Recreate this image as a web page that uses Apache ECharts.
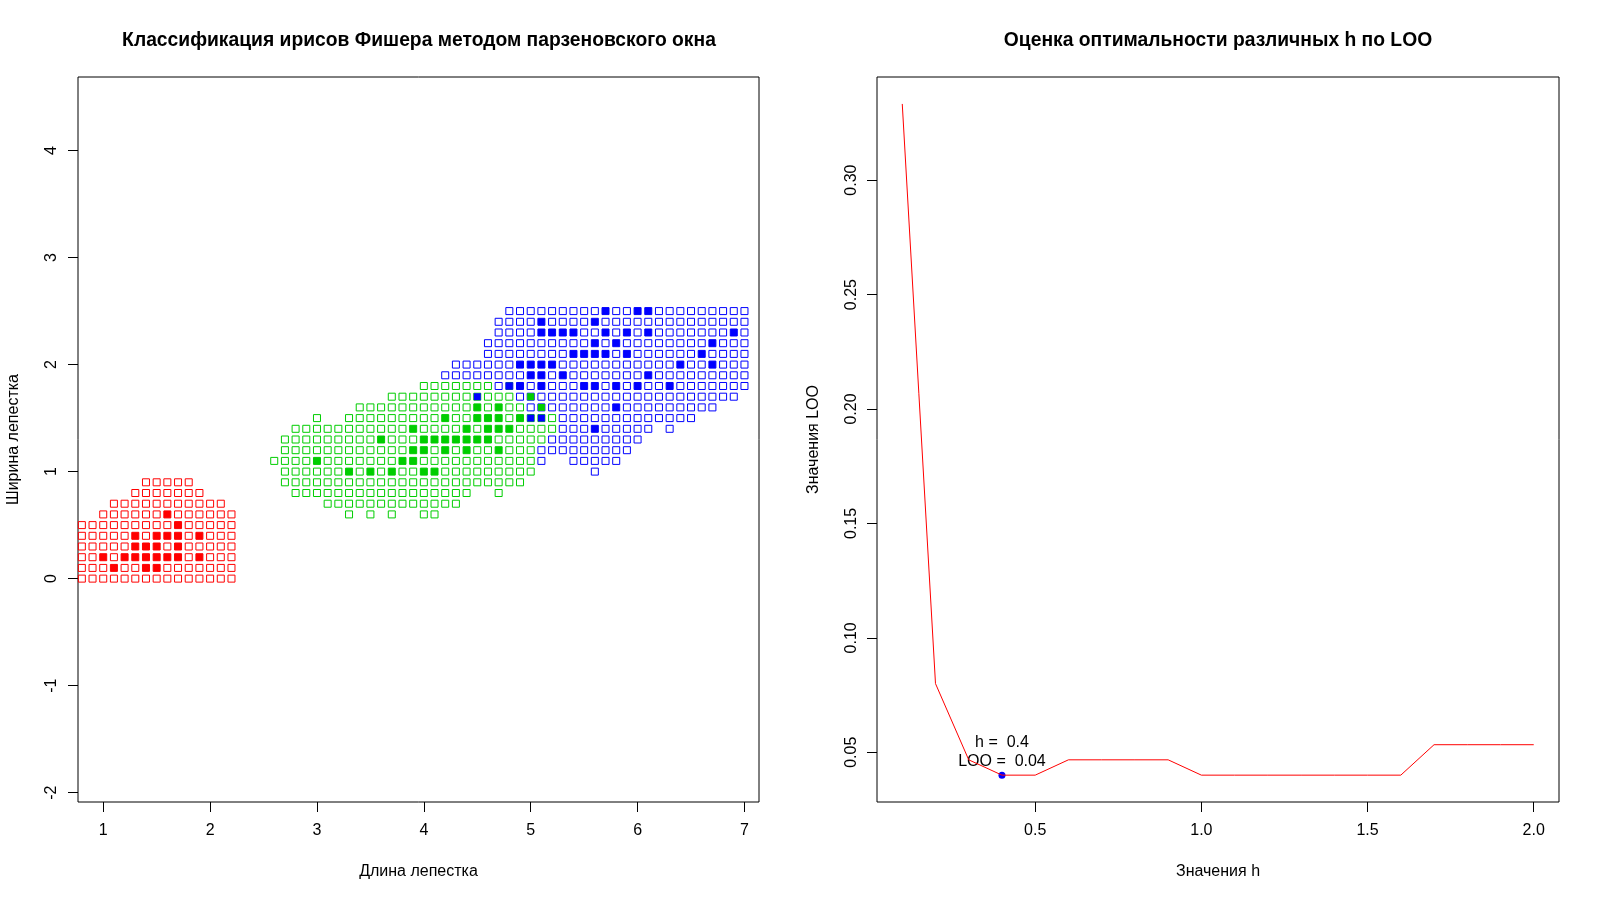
<!DOCTYPE html>
<html><head><meta charset="utf-8">
<script src="https://cdn.jsdelivr.net/npm/echarts@6/dist/echarts.min.js"></script>
<style>html,body{margin:0;padding:0;background:#fff}#c{width:1600px;height:900px}</style>
</head><body><div id="c"></div>
<script>
// ---------- Left chart: Parzen-window classification map ----------
const lengthTicks = [1, 2, 3, 4, 5, 6, 7];
const widthTicks = [-2, -1, 0, 1, 2, 3, 4];

// grid cells, run-length per row: [petal width, first petal length, last petal length]
const setosaCells = [
  [0.0, 0.8, 2.2], [0.1, 0.8, 2.2], [0.2, 0.8, 2.2], [0.3, 0.8, 2.2], [0.4, 0.8, 2.2],
  [0.5, 0.8, 2.2], [0.6, 1.0, 2.2], [0.7, 1.1, 2.1], [0.8, 1.3, 1.9], [0.9, 1.4, 1.8]
];
const versicolorCells = [
  [0.6, 3.3, 3.3], [0.6, 3.5, 3.5], [0.6, 3.7, 3.7], [0.6, 4.0, 4.1],
  [0.7, 3.1, 4.3],
  [0.8, 2.8, 4.4], [0.8, 4.7, 4.7],
  [0.9, 2.7, 4.9], [1.0, 2.7, 5.0], [1.1, 2.6, 5.0], [1.2, 2.7, 5.0],
  [1.3, 2.7, 5.1], [1.4, 2.8, 5.2],
  [1.5, 3.0, 3.0], [1.5, 3.3, 5.2],
  [1.6, 3.4, 4.9], [1.7, 3.7, 4.8], [1.8, 4.0, 4.6]
];
const virginicaCells = [
  [1.0, 5.6, 5.6],
  [1.1, 5.1, 5.1], [1.1, 5.4, 5.8],
  [1.2, 5.1, 5.9], [1.3, 5.2, 6.0],
  [1.4, 5.3, 6.1], [1.4, 6.3, 6.3],
  [1.5, 5.3, 6.5], [1.6, 5.0, 6.7], [1.7, 4.9, 6.9], [1.8, 4.7, 7.0],
  [1.9, 4.2, 7.0], [2.0, 4.3, 7.0], [2.1, 4.6, 7.0], [2.2, 4.6, 7.0],
  [2.3, 4.7, 7.0], [2.4, 4.7, 7.0], [2.5, 4.8, 7.0]
];

// observed iris points [petal length, petal width]
const setosaPoints = [
  [1.4,0.2],[1.3,0.2],[1.5,0.2],[1.7,0.4],[1.4,0.3],[1.5,0.1],[1.6,0.2],[1.4,0.1],[1.1,0.1],
  [1.2,0.2],[1.5,0.4],[1.3,0.4],[1.7,0.3],[1.5,0.3],[1.7,0.2],[1.0,0.2],[1.7,0.5],[1.9,0.2],
  [1.6,0.4],[1.3,0.3],[1.6,0.6],[1.9,0.4]
];
const versicolorPoints = [
  [4.7,1.4],[4.5,1.5],[4.9,1.5],[4.0,1.3],[4.6,1.5],[4.5,1.3],[4.7,1.6],[3.3,1.0],[4.6,1.3],
  [3.9,1.4],[3.5,1.0],[4.2,1.5],[4.0,1.0],[3.6,1.3],[4.4,1.4],[4.1,1.0],[3.9,1.1],[4.8,1.8],
  [4.7,1.2],[4.3,1.3],[4.8,1.4],[5.0,1.7],[3.8,1.1],[3.7,1.0],[3.9,1.2],[5.1,1.6],[4.5,1.6],
  [4.7,1.5],[4.4,1.3],[4.1,1.3],[4.4,1.2],[4.6,1.4],[4.0,1.2],[4.2,1.3],[4.2,1.2],[3.0,1.1]
];
const virginicaPoints = [
  [6.0,2.5],[5.1,1.9],[5.9,2.1],[5.6,1.8],[5.8,2.2],[6.6,2.1],[4.5,1.7],[6.3,1.8],[5.8,1.8],
  [6.1,2.5],[5.1,2.0],[5.3,1.9],[5.5,2.1],[5.0,2.0],[5.1,2.4],[5.3,2.3],[5.5,1.8],[6.7,2.2],
  [6.9,2.3],[5.0,1.5],[5.7,2.3],[4.9,2.0],[6.7,2.0],[4.9,1.8],[5.7,2.1],[6.0,1.8],[4.8,1.8],
  [5.6,2.1],[5.8,1.6],[6.1,1.9],[6.4,2.0],[5.6,2.2],[5.1,1.5],[5.6,1.4],[6.1,2.3],[5.6,2.4],
  [5.4,2.1],[5.1,2.3],[5.9,2.3],[5.7,2.5],[5.2,2.3],[5.0,1.9],[5.2,2.0],[5.4,2.3],[5.1,1.8]
];

// ---------- Right chart: LOO vs h ----------
const hValues = [0.1,0.2,0.3,0.4,0.5,0.6,0.7,0.8,0.9,1.0,1.1,1.2,1.3,1.4,1.5,1.6,1.7,1.8,1.9,2.0];
const looValues = [0.3333,0.08,0.0467,0.04,0.04,0.0467,0.0467,0.0467,0.0467,0.04,
                   0.04,0.04,0.04,0.04,0.04,0.04,0.0533,0.0533,0.0533,0.0533];
const hTicks = [0.5, 1.0, 1.5, 2.0];
const looTicks = [0.05, 0.10, 0.15, 0.20, 0.25, 0.30];

const FONT = 'Liberation Sans, Arial, sans-serif';
const RED = '#FF0000', GREEN = '#00CD00', BLUE = '#0000FF';

function expand(segs) {
  const out = [];
  segs.forEach(([w, a, b]) => {
    for (let k = Math.round(a * 10); k <= Math.round(b * 10); k++) out.push([k / 10, w]);
  });
  return out;
}

function axisCommon(ticks, fmt, extra) {
  return Object.assign({
    type: 'value',
    axisLine: { show: false, onZero: false },
    splitLine: { show: false },
    axisTick: { show: true, length: 10, lineStyle: { color: '#000', width: 1 }, customValues: ticks },
    axisLabel: { customValues: ticks, formatter: fmt, color: '#000', fontSize: 16, fontFamily: FONT, margin: 21 },
    nameLocation: 'middle',
    nameTextStyle: { color: '#000', fontSize: 16, fontFamily: FONT }
  }, extra);
}

function openSquares(data, color) {
  return {
    type: 'scatter', xAxisIndex: 0, yAxisIndex: 0, data: data, symbol: 'rect', symbolSize: 7,
    itemStyle: { color: 'rgba(0,0,0,0)', borderColor: color, borderWidth: 1, opacity: 1 }, silent: true
  };
}
function filledSquares(data, color) {
  return {
    type: 'scatter', xAxisIndex: 0, yAxisIndex: 0, data: data, symbol: 'rect', symbolSize: 7,
    itemStyle: { color: color, borderWidth: 0, opacity: 1 }, silent: true
  };
}

let minIdx = 0;
looValues.forEach((v, i) => { if (v < looValues[minIdx]) minIdx = i; });
const lineData = hValues.map((h, i) => [h, looValues[i]]);

const yAxes = [
  axisCommon(widthTicks, v => String(v), { gridIndex: 0, min: -2.0875, max: 4.6875, name: 'Ширина лепестка', nameGap: 56 }),
  axisCommon(looTicks, v => v.toFixed(2), { gridIndex: 1, min: 0.028267, max: 0.345067, name: 'Значения LOO', nameGap: 55 })
];
yAxes[0].axisLabel.rotate = 90; yAxes[0].axisLabel.margin = 18;
yAxes[1].axisLabel.rotate = 90; yAxes[1].axisLabel.margin = 17;

const chart = echarts.init(document.getElementById('c'), null, { renderer: 'canvas' });
chart.setOption({
  animation: false,
  backgroundColor: '#fff',
  textStyle: { fontFamily: FONT },
  title: [
    { text: 'Классификация ирисов Фишера методом парзеновского окна', left: 419, top: 31, padding: 0, textAlign: 'center',
      textStyle: { fontSize: 19.3, fontWeight: 'bold', color: '#000', fontFamily: FONT } },
    { text: 'Оценка оптимальности различных h по LOO', left: 1218, top: 31, padding: 0, textAlign: 'center',
      textStyle: { fontSize: 19.3, fontWeight: 'bold', color: '#000', fontFamily: FONT } }
  ],
  grid: [
    { left: 78, top: 77, width: 681, height: 725, show: true, borderColor: '#000', borderWidth: 1, backgroundColor: 'transparent' },
    { left: 877, top: 77, width: 682, height: 725, show: true, borderColor: '#000', borderWidth: 1, backgroundColor: 'transparent' }
  ],
  xAxis: [
    axisCommon(lengthTicks, v => String(v), { gridIndex: 0, min: 0.764, max: 7.136, name: 'Длина лепестка', nameGap: 62 }),
    axisCommon(hTicks, v => v.toFixed(1), { gridIndex: 1, min: 0.024, max: 2.076, name: 'Значения h', nameGap: 62 })
  ],
  yAxis: yAxes,
  series: [
    openSquares(expand(setosaCells), RED),
    openSquares(expand(versicolorCells), GREEN),
    openSquares(expand(virginicaCells), BLUE),
    filledSquares(setosaPoints, RED),
    filledSquares(versicolorPoints, GREEN),
    filledSquares(virginicaPoints, BLUE),
    {
      type: 'line', xAxisIndex: 1, yAxisIndex: 1, data: lineData, showSymbol: false, symbol: 'none',
      lineStyle: { color: RED, width: 1, opacity: 1 }, silent: true
    },
    {
      type: 'scatter', xAxisIndex: 1, yAxisIndex: 1, data: [[hValues[minIdx], looValues[minIdx]]],
      symbol: 'circle', symbolSize: 7, itemStyle: { color: BLUE, opacity: 1 }, silent: true,
      label: {
        show: true, position: 'top', distance: 1, align: 'center', color: '#000', fontSize: 16, lineHeight: 19,
        fontFamily: FONT,
        formatter: () => 'h =  ' + hValues[minIdx] + '\nLOO =  ' + looValues[minIdx]
      }
    }
  ]
});
</script>
</body></html>
